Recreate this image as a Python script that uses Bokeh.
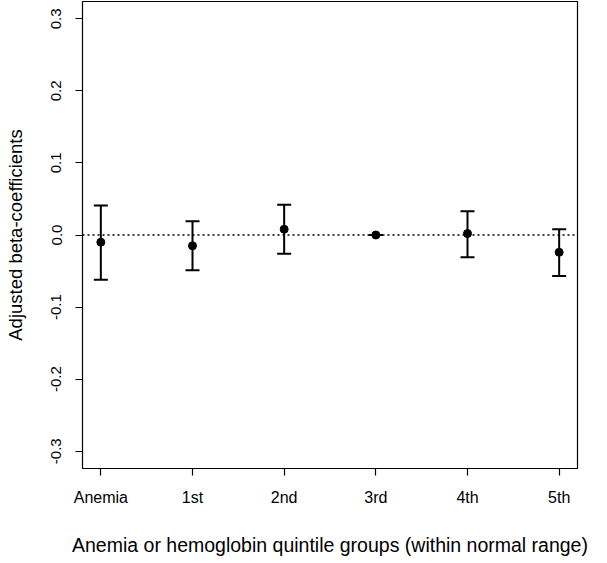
from bokeh.plotting import figure
from bokeh.models import ColumnDataSource, Whisker, Span, FixedTicker, Range1d, TeeHead
from bokeh.embed import file_html
from bokeh.resources import INLINE

groups = ["Anemia", "1st", "2nd", "3rd", "4th", "5th"]
positions = [1, 2, 3, 4, 5, 6]
beta = [-0.010, -0.015, 0.008, 0.000, 0.002, -0.024]
lower = [-0.062, -0.049, -0.026, 0.000, -0.031, -0.057]
upper = [0.041, 0.019, 0.042, 0.000, 0.033, 0.008]
y_ticks = [-0.3, -0.2, -0.1, 0.0, 0.1, 0.2, 0.3]

FONT = "Liberation Sans"

p = figure(frame_width=495, frame_height=467, output_backend="svg", toolbar_location=None,
           x_range=Range1d(0.8, 6.2), y_range=Range1d(-0.324, 0.324),
           min_border_left=82, min_border_right=14, min_border_top=1, min_border_bottom=78)
p.grid.visible = False
p.outline_line_color = "black"
p.outline_line_width = 1.2

src = ColumnDataSource(dict(x=positions, y=beta, lo=lower, hi=upper))

p.add_layout(Span(location=0, dimension="width", line_color="black",
                  line_dash="2 3", line_width=1.5))

wh = Whisker(source=src, base="x", lower="lo", upper="hi",
             line_color="black", line_width=2,
             lower_head=TeeHead(size=14, line_width=2, line_color="black"),
             upper_head=TeeHead(size=14, line_width=2, line_color="black"))
p.add_layout(wh)
p.scatter("x", "y", source=src, size=8, color="black")

p.xaxis.ticker = FixedTicker(ticks=positions)
p.xaxis.major_label_overrides = {pos: g for pos, g in zip(positions, groups)}
p.yaxis.ticker = FixedTicker(ticks=y_ticks)
p.yaxis.major_label_overrides = {t: f"{t:.1f}" for t in y_ticks}
p.yaxis.major_label_orientation = "vertical"

for ax in (p.xaxis, p.yaxis):
    ax.axis_line_color = None
    ax.minor_tick_line_color = None
    ax.major_tick_line_color = "black"
    ax.major_tick_line_width = 1.2
    ax.major_tick_out = 7
    ax.major_tick_in = 0
    ax.major_label_text_font = FONT
    ax.major_label_text_color = "black"
    ax.axis_label_text_font = FONT
    ax.axis_label_text_font_style = "normal"
    ax.axis_label_text_color = "black"

p.xaxis.major_label_text_font_size = "16px"
p.yaxis.major_label_text_font_size = "15px"
p.xaxis.axis_label_text_font_size = "19.5px"
p.yaxis.axis_label_text_font_size = "18.5px"
p.xaxis.major_label_standoff = 13
p.yaxis.major_label_standoff = 14
p.xaxis.axis_label = "Anemia or hemoglobin quintile groups (within normal range)"
p.yaxis.axis_label = "Adjusted beta-coefficients"
p.xaxis.axis_label_standoff = 25
p.yaxis.axis_label_standoff = 23

open("out.html", "w").write(file_html(p, INLINE))
